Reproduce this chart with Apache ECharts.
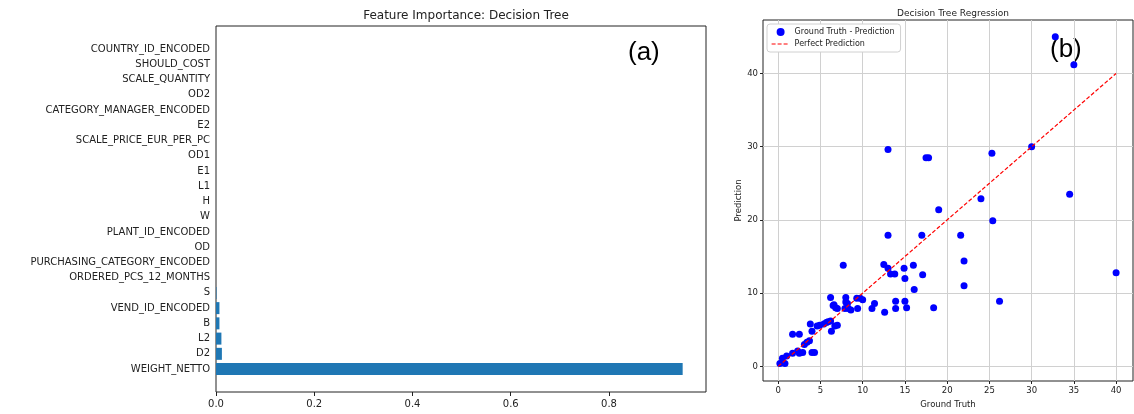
<!DOCTYPE html>
<html><head><meta charset="utf-8">
<script src="https://cdn.jsdelivr.net/npm/echarts@6/dist/echarts.min.js"></script>
<style>html,body{margin:0;padding:0;background:#fff}#c{width:1134px;height:414px}</style>
</head><body><div id="c"></div>
<script>
// ---- Panel (a): feature importance (bottom to top) ----
const features = ['WEIGHT_NETTO','D2','L2','B','VEND_ID_ENCODED','S','ORDERED_PCS_12_MONTHS',
  'PURCHASING_CATEGORY_ENCODED','OD','PLANT_ID_ENCODED','W','H','L1','E1','OD1',
  'SCALE_PRICE_EUR_PER_PC','E2','CATEGORY_MANAGER_ENCODED','OD2','SCALE_QUANTITY','SHOULD_COST','COUNTRY_ID_ENCODED'];
const importance = [0.950,0.012,0.011,0.007,0.007,0.001,0,0,0,0,0,0,0,0,0,0,0,0,0,0,0,0];
const importanceTicks = [0,0.2,0.4,0.6,0.8];

// ---- Panel (b): ground truth vs prediction ----
const truth = [0.2,0.8,0.5,1.0,1.7,2.3,2.5,2.9,4.0,4.3,1.7,2.5,3.1,3.4,3.7,4.0,3.8,4.6,4.9,5.4,5.7,5.9,6.2,6.3,6.7,7.0,
  6.2,6.5,6.6,6.8,7.0,8.0,8.0,8.2,7.9,8.3,8.6,9.4,9.3,9.7,10.0,11.1,11.4,12.6,13.9,13.9,15.0,15.2,18.4,16.1,15.0,17.1,13.3,13.8,7.7,12.5,13.0,14.9,16.0,
  13.0,17.0,21.6,19.0,13.0,17.5,17.8,25.3,30.0,24.0,25.4,22.0,22.0,26.2,34.5,40.0,32.8,35.0];
const pred = [0.4,0.4,1.1,1.4,1.8,2.1,1.8,1.9,1.9,1.9,4.4,4.4,3.0,3.3,3.5,4.8,5.8,5.5,5.6,5.8,6.0,6.1,6.2,4.8,5.5,5.6,
  9.4,8.3,8.4,8.0,7.9,9.4,8.8,8.6,7.9,7.9,7.7,7.9,9.3,9.3,9.1,7.9,8.6,7.4,8.9,7.9,8.9,8.0,8.0,10.5,12.0,12.5,12.6,12.6,13.8,13.9,13.4,13.4,13.8,
  17.9,17.9,17.9,21.4,29.6,28.5,28.5,29.1,30.0,22.9,19.9,14.4,11.0,8.9,23.5,12.8,45.0,41.2];
const perfectLine = [0,40];
const truthTicks = [0,5,10,15,20,25,30,35,40];
const predTicks = [0,10,20,30,40];

const font = 'DejaVu Sans';
const chart = echarts.init(document.getElementById('c'));
chart.setOption({
  animation:false,
  textStyle:{fontFamily:font},
  title:[
    {text:'Feature Importance: Decision Tree', left:461, top:5, textAlign:'center',
     textStyle:{fontSize:12, fontWeight:'normal', color:'#222', fontFamily:font}},
    {text:'Decision Tree Regression', left:948, top:4, textAlign:'center',
     textStyle:{fontSize:9, fontWeight:'normal', color:'#222', fontFamily:font}}
  ],
  grid:[
    {left:216, top:26, width:490, height:366, show:true, borderColor:'#222', borderWidth:1, backgroundColor:'transparent'},
    {left:216, top:41.4, width:490, height:335.3},
    {left:763, top:20, width:370, height:367, show:true, borderColor:'#222', borderWidth:1, backgroundColor:'transparent'}
  ],
  xAxis:[
    {gridIndex:0, type:'value', min:0, max:0.9975, position:'bottom',
     axisLine:{onZero:false, show:false}, splitLine:{show:false},
     axisTick:{customValues:importanceTicks, length:4, lineStyle:{color:'#222'}},
     axisLabel:{customValues:importanceTicks, formatter:v=>v.toFixed(1), fontSize:10, color:'#222', margin:7}},
    {gridIndex:1, type:'value', min:0, max:0.9975, show:false},
    {gridIndex:2, type:'value', min:-1.8, max:42, name:'Ground Truth', nameLocation:'middle', nameGap:19,
     nameTextStyle:{fontSize:8.5, color:'#222'},
     axisLine:{onZero:false, show:false},
     axisTick:{customValues:truthTicks, length:3, lineStyle:{color:'#222'}},
     axisLabel:{customValues:truthTicks, fontSize:8.5, color:'#222', margin:5},
     splitLine:{show:true, lineStyle:{color:'#d0d0d0', width:1}}}
  ],
  yAxis:[
    {gridIndex:0, type:'value', min:0, max:1, show:false},
    {gridIndex:1, type:'category', data:features,
     axisLine:{show:false}, axisTick:{alignWithLabel:true, length:4, lineStyle:{color:'#222'}},
     axisLabel:{fontSize:10, color:'#222', margin:6, interval:0}},
    {gridIndex:2, type:'value', min:-2, max:47.3, name:'Prediction', nameLocation:'middle', nameGap:20,
     nameRotate:90, nameTextStyle:{fontSize:8.5, color:'#222'},
     axisLine:{onZero:false, show:false},
     axisTick:{customValues:predTicks, length:3, lineStyle:{color:'#222'}},
     axisLabel:{customValues:predTicks, fontSize:8.5, color:'#222', margin:5},
     splitLine:{show:true, lineStyle:{color:'#d0d0d0', width:1}}}
  ],
  legend:{
    left:767, top:24, orient:'vertical', itemGap:4, itemWidth:18, itemHeight:8,
    padding:[4,6,4,4], borderColor:'#d0d0d0', borderWidth:1, borderRadius:3, backgroundColor:'#fff',
    textStyle:{fontSize:8, color:'#222'},
    data:[
      {name:'Ground Truth - Prediction', icon:'circle', itemStyle:{opacity:1}},
      {name:'Perfect Prediction', itemStyle:{opacity:0}, lineStyle:{color:'#ff0000', type:[4,2], width:1.2}}
    ]
  },
  series:[
    {type:'bar', xAxisIndex:1, yAxisIndex:1, data:importance, barWidth:12,
     itemStyle:{color:'#1f77b4'}},
    {type:'scatter', name:'Ground Truth - Prediction', xAxisIndex:2, yAxisIndex:2,
     data:truth.map((t,i)=>[t,pred[i]]), symbolSize:7, itemStyle:{color:'#0000ff', opacity:1}, z:3},
    {type:'line', name:'Perfect Prediction', xAxisIndex:2, yAxisIndex:2,
     data:perfectLine.map(v=>[v,v]), symbol:'none', itemStyle:{color:'#ff0000'},
     lineStyle:{color:'#ff0000', type:[4,2], width:1.2}, z:4}
  ],
  graphic:[
    {type:'text', left:628, top:40, style:{text:'(a)', fontSize:26, fontFamily:'Liberation Sans', fill:'#000'}},
    {type:'text', left:1050, top:37, style:{text:'(b)', fontSize:26, fontFamily:'Liberation Sans', fill:'#000'}}
  ]
});
</script></body></html>
